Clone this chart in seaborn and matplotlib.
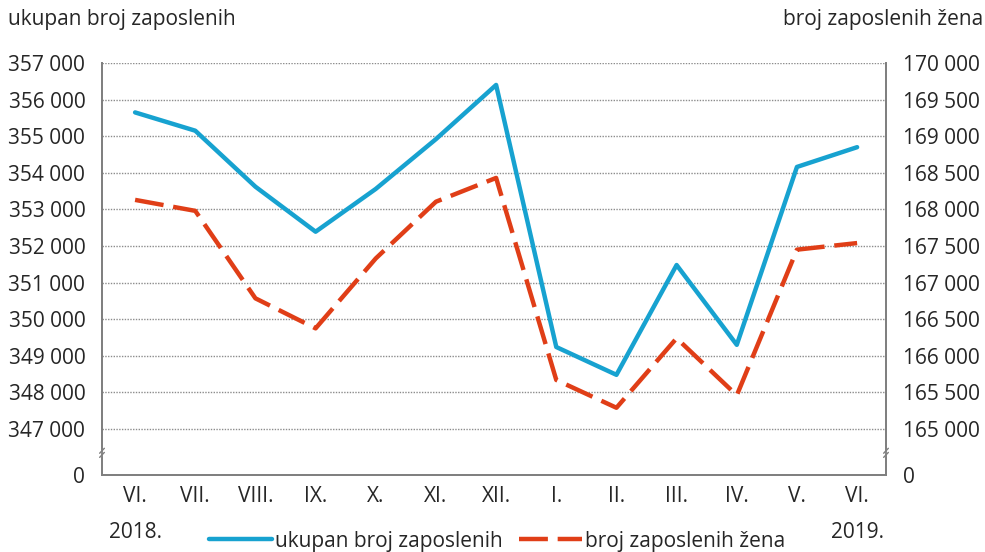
import matplotlib
matplotlib.use("Agg")
import matplotlib.pyplot as plt
import seaborn as sns
import pandas as pd
import numpy as np

months = ["VI.", "VII.", "VIII.", "IX.", "X.", "XI.", "XII.", "I.", "II.", "III.", "IV.", "V.", "VI."]
ukupno = [355650, 355150, 353620, 352390, 353560, 354920, 356400, 349240, 348480, 351480, 349300, 354160, 354700]
zene = [168130, 167980, 166785, 166375, 167330, 168105, 168430, 165670, 165290, 166240, 165460, 167450, 167540]
left_ticks = [347000, 348000, 349000, 350000, 351000, 352000, 353000, 354000, 355000, 356000, 357000]
right_ticks = [165000, 165500, 166000, 166500, 167000, 167500, 168000, 168500, 169000, 169500, 170000]
years = ["2018.", "2019."]
label_left = "ukupan broj zaposlenih"
label_right = "broj zaposlenih žena"

sns.set_theme(style="white")
plt.rcParams['font.family'] = ['Open Sans', 'DejaVu Sans']
TXT = '#262626'
BLUE = '#17A2D0'
RED = '#E03E17'
FS = 15

df = pd.DataFrame({"x": np.arange(len(months)), "ukupno": ukupno, "zene": zene})

fig = plt.figure(figsize=(9.85, 5.52), dpi=100)
ax = fig.add_axes([102/985, 1-475/552, 784/985, 412/552])
ax2 = ax.twinx()

sns.lineplot(data=df, x="x", y="ukupno", ax=ax, color=BLUE, lw=3.2, label=label_left, legend=False)
sns.lineplot(data=df, x="x", y="zene", ax=ax2, color=RED, lw=3.2, label=label_right, legend=False)
ax2.lines[0].set_dashes([6.5, 2.2])

lbot = 347000 - 46/36.6*1000
rbot = 165000 - 46/36.6*500
ax.set_ylim(lbot, 357000)
ax2.set_ylim(rbot, 170000)
ax.set_xlim(-0.55, 12.48)

ax.set_yticks([lbot] + left_ticks)
ax.set_yticklabels(["0"] + [f"{v:,}".replace(",", " ") for v in left_ticks])
ax2.set_yticks([rbot] + right_ticks)
ax2.set_yticklabels(["0"] + [f"{v:,}".replace(",", " ") for v in right_ticks])
ax.set_xticks(range(len(months)))
ax.set_xticklabels(months)

for v in left_ticks:
    ax.axhline(v, color='#8c8c8c', lw=1.0, ls=(0, (1, 1)), zorder=0)

ax.tick_params(axis='y', length=0, pad=12, labelsize=FS, labelcolor=TXT)
ax.tick_params(axis='x', length=0, pad=8, labelsize=FS, labelcolor=TXT)
ax2.tick_params(axis='y', length=0, pad=12.5, labelsize=FS, labelcolor=TXT)
ax.set_xlabel("")
ax.set_ylabel("")
ax2.set_ylabel("")

for a in (ax, ax2):
    a.spines['top'].set_visible(False)
    for s in ('left', 'right', 'bottom'):
        a.spines[s].set_color('#7f7f7f')
        a.spines[s].set_linewidth(1.3)

# axis break marks
yb = 23/412
for xs in (0, 1):
    ax.plot([xs - 0.003, xs + 0.003], [yb - 0.01, yb + 0.004], transform=ax.transAxes,
            color='white', lw=3.5, clip_on=False, zorder=5, solid_capstyle='butt')
    for off in (-0.005, 0.005):
        ax.plot([xs - 0.003, xs + 0.003], [yb - 0.008 + off, yb + 0.004 + off], transform=ax.transAxes,
                color='#7f7f7f', lw=1.0, clip_on=False, zorder=6)

fig.text(8/985, 1-20/552, label_left, ha='left', va='center', fontsize=FS, color=TXT)
fig.text(983/985, 1-20/552, label_right, ha='right', va='center', fontsize=FS, color=TXT)
fig.text(135/985, 1-533/552, years[0], ha='center', va='center', fontsize=FS, color=TXT)
fig.text(857/985, 1-533/552, years[1], ha='center', va='center', fontsize=FS, color=TXT)

h1 = ax.lines[0]
h2 = ax2.lines[0]
leg = fig.legend([h1, h2], [label_left, label_right], loc='center', bbox_to_anchor=(497/985, 1-541/552),
                 ncol=2, frameon=False, fontsize=FS, handlelength=3.0, handletextpad=0.15,
                 columnspacing=0.8, labelcolor=TXT)

fig.savefig("out.png", dpi=100)
